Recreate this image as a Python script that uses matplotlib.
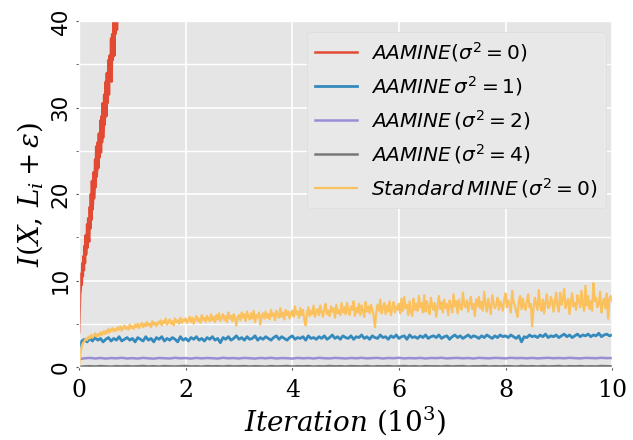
#!/usr/bin/env python
# Mutual information estimates vs. training iteration (AAMINE vs standard MINE)
import numpy
import matplotlib
matplotlib.use('Agg')
import matplotlib.pyplot as plt
from matplotlib.font_manager import FontProperties


######################################################################
# Data
######################################################################

# AAMINE (sigma^2 = 0): x in 10^3 iterations, step 0.01 from 0.00
red_vals = [
    4.0, 6.5, 8.5, 9.0, 10.8, 9.5, 12.0, 10.5, 12.8, 11.2,
    14.0, 12.0, 15.2, 13.0, 14.0, 16.5, 13.8, 17.2, 15.0, 14.5,
    18.5, 16.0, 20.0, 17.0, 21.5, 18.2, 19.0, 22.5, 19.5, 21.0,
    24.0, 20.8, 25.5, 22.0, 23.0, 26.0, 23.0, 27.0, 24.2, 25.0,
    28.5, 24.8, 29.0, 26.0, 30.5, 26.5, 28.0, 31.5, 28.0, 30.0,
    33.0, 29.0, 34.0, 30.5, 32.0, 35.5, 31.5, 36.0, 33.5, 34.5,
    38.0, 33.0, 38.5, 35.5, 36.5, 40.5, 36.0, 41.0, 38.5, 40.0,
    42.0, 39.0, 42.5,
]

# Standard MINE (sigma^2 = 0): step 0.025 from 0.00 to 10.00
orange_vals = [
    0.2, 1.6, 2.4, 2.8, 3.0, 3.3, 3.1, 3.5, 3.3, 3.7, 3.4, 3.6, 3.9, 3.5, 3.8, 3.6, 4.0, 3.7, 4.1, 3.8,
    4.2, 3.9, 4.4, 4.0, 4.3, 4.5, 4.1, 4.4, 4.2, 4.6, 4.3, 4.7, 4.2, 4.5, 4.8, 4.4, 4.6, 4.3, 4.9, 4.5,
    4.7, 4.4, 4.9, 4.6, 5.0, 4.5, 4.8, 5.1, 4.6, 5.0, 4.7, 5.2, 4.8, 5.0, 4.6, 5.3, 4.9, 5.1, 4.7, 5.2,
    5.0, 5.4, 4.8, 5.3, 5.1, 5.6, 4.9, 5.2, 5.5, 5.0, 5.3, 4.8, 5.6, 5.2, 5.4, 5.0, 5.7, 5.1, 5.5, 5.3,
    5.6, 5.1, 5.4, 5.8, 5.2, 5.7, 5.0, 5.5, 5.9, 5.3, 5.6, 5.1, 6.0, 5.4, 5.7, 5.2, 5.9, 5.5, 5.3, 6.1,
    5.4, 5.8, 5.2, 6.0, 5.5, 6.2, 5.3, 5.7, 6.1, 5.4, 5.9, 5.2, 6.3, 5.6, 5.9, 5.3, 6.1, 5.6, 4.8, 5.8,
    6.0, 5.4, 6.3, 5.7, 6.1, 5.3, 6.4, 5.8, 5.5, 6.2, 5.6, 6.5, 5.2, 6.0, 5.7, 6.3, 4.9, 5.9, 6.2, 5.6,
    6.4, 5.7, 6.1, 5.5, 6.6, 5.9, 6.2, 5.4, 6.5, 6.0, 5.7, 6.8, 5.8, 6.3, 5.5, 6.6, 6.0, 6.4, 5.6, 6.2,
    6.5, 5.8, 7.0, 6.1, 6.4, 5.7, 6.8, 6.0, 6.6, 5.5, 4.8, 6.2, 6.9, 5.9, 6.5, 6.1, 7.1, 5.8, 6.4, 6.7,
    6.0, 7.1, 6.3, 5.8, 6.7, 7.3, 6.1, 6.5, 5.9, 7.0, 6.4, 6.8, 5.7, 7.2, 6.2, 6.6, 6.0, 7.4, 6.3, 6.9,
    6.1, 7.4, 6.5, 6.0, 7.0, 6.6, 7.6, 5.9, 6.8, 6.3, 7.3, 6.0, 7.1, 6.5, 5.8, 7.5, 6.4, 7.0, 6.2, 7.2,
    6.6, 6.0, 4.6, 6.3, 7.2, 6.5, 7.8, 6.2, 6.9, 7.4, 6.1, 7.1, 6.4, 7.6, 6.0, 6.8, 7.5, 6.3, 7.0, 6.6,
    7.3, 6.2, 7.9, 6.5, 8.1, 6.8, 7.2, 6.0, 7.6, 6.4, 5.9, 7.9, 6.6, 7.3, 6.5, 8.2, 6.9, 7.4, 6.3, 8.3,
    6.4, 7.6, 6.9, 6.1, 8.0, 7.1, 6.6, 7.4, 5.8, 7.0, 8.2, 6.7, 7.5, 6.3, 7.8, 6.8, 7.3, 6.0, 7.7, 7.1,
    6.3, 8.4, 7.0, 7.6, 6.2, 7.8, 6.9, 6.6, 8.6, 7.2, 6.9, 7.7, 6.4, 7.4, 8.1, 6.7, 7.3, 5.9, 7.8, 7.0,
    8.1, 6.8, 7.5, 6.5, 8.7, 7.2, 6.4, 7.9, 7.0, 6.1, 8.3, 7.4, 6.8, 7.2, 8.0, 6.6, 7.6, 7.1, 6.5, 7.8,
    8.5, 6.9, 7.7, 7.2, 6.3, 8.8, 7.5, 7.1, 6.4, 5.8, 7.6, 8.2, 6.7, 7.9, 7.0, 6.6, 7.6, 8.4, 6.9, 7.3,
    4.7, 6.8, 8.0, 7.3, 6.6, 8.9, 7.1, 6.5, 7.8, 6.2, 7.4, 8.4, 6.8, 7.0, 8.1, 7.7, 6.4, 7.5, 8.6, 7.0,
    6.4, 8.6, 7.2, 7.8, 9.0, 6.8, 7.4, 7.9, 6.1, 7.5, 8.5, 7.0, 7.4, 6.6, 8.3, 7.7, 6.9, 8.8, 7.3, 6.5,
    9.4, 7.1, 8.2, 6.7, 7.6, 6.5, 9.7, 7.6, 8.0, 6.9, 7.3, 8.7, 6.3, 7.5, 7.9, 6.8, 8.5, 5.6, 7.9, 8.2,
    7.6,
]

# AAMINE (sigma^2 = 1): step 0.05 from 0.00 to 10.00
blue_vals = [
    2.2, 3.0, 3.2, 2.9, 3.3, 3.0, 3.4, 3.1, 3.3, 2.9,
    3.2, 3.4, 3.0, 3.3, 3.1, 3.5, 3.0, 3.2, 3.4, 3.1,
    3.3, 2.9, 3.4, 3.2, 3.0, 3.5, 3.1, 3.3, 2.9, 3.4,
    3.2, 3.5, 3.0, 3.3, 3.1, 3.4, 3.2, 2.9, 3.5, 3.1,
    3.3, 3.0, 3.4, 3.2, 3.5, 3.1, 3.3, 3.0, 3.4, 3.2,
    3.5, 3.1, 3.3, 2.8, 3.4, 3.2, 3.5, 3.1, 3.3, 3.6,
    3.2, 3.4, 3.1, 3.5, 3.2, 3.3, 3.6, 3.1, 3.4, 3.2,
    3.5, 3.3, 3.1, 3.4, 3.6, 3.2, 3.5, 3.3, 3.1, 3.4,
    3.6, 3.2, 3.4, 3.3, 3.5, 3.1, 3.6, 3.3, 3.4, 3.2,
    3.5, 3.3, 3.6, 3.2, 3.4, 3.7, 3.3, 3.5, 3.2, 3.6,
    3.4, 3.3, 3.6, 3.2, 3.5, 3.4, 3.7, 3.3, 3.5, 3.2,
    3.6, 3.4, 3.3, 3.7, 3.4, 3.5, 3.2, 3.6, 3.4, 3.7,
    3.3, 3.5, 3.6, 3.2, 3.7, 3.4, 3.5, 3.3, 3.6, 3.4,
    3.7, 3.3, 3.5, 3.6, 3.4, 3.7, 3.3, 3.5, 3.6, 3.2,
    3.5, 3.7, 3.4, 3.6, 3.3, 3.5, 3.7, 3.4, 3.6, 3.5,
    3.3, 3.6, 3.4, 3.7, 3.5, 3.3, 3.6, 3.4, 3.7, 3.5,
    3.6, 3.4, 3.7, 3.5, 3.3, 3.6, 2.9, 3.5, 3.4, 3.7,
    3.5, 3.6, 3.4, 3.7, 3.5, 3.8, 3.4, 3.6, 3.5, 3.7,
    3.4, 3.6, 3.8, 3.5, 3.7, 3.4, 3.6, 3.8, 3.5, 3.7,
    3.6, 3.8, 3.5, 3.7, 3.6, 3.9, 3.5, 3.7, 3.8, 3.6,
    3.7,
]

# AAMINE (sigma^2 = 2): step 0.1 from 0.0 to 10.0
purple_vals = [
    0.90, 1.00, 1.05, 0.98, 1.04, 0.97, 1.03, 1.00, 1.06, 0.98,
    1.02, 0.97, 1.05, 1.00, 0.96, 1.04, 1.01, 0.98, 1.06, 1.00,
    1.03, 0.97, 1.05, 0.99, 1.04, 1.01, 0.97, 1.06, 1.00, 1.03,
    0.98, 1.05, 1.01, 0.97, 1.04, 1.00, 1.06, 0.98, 1.03, 1.01,
    0.97, 1.05, 1.00, 1.04, 0.98, 1.06, 1.01, 0.99, 1.05, 1.02,
    0.98, 1.04, 1.00, 1.06, 0.99, 1.03, 1.05, 0.98, 1.04, 1.01,
    1.06, 0.99, 1.03, 1.00, 1.05, 0.98, 1.04, 1.02, 1.06, 0.99,
    1.03, 1.05, 1.00, 1.04, 0.98, 1.06, 1.02, 1.00, 1.05, 1.03,
    0.99, 1.06, 1.02, 1.04, 1.00, 1.05, 0.99, 1.03, 1.06, 1.01,
    1.04, 1.00, 1.06, 1.02, 0.99, 1.05, 1.03, 1.01, 1.06, 1.02,
    1.04,
]

# AAMINE (sigma^2 = 4): step 0.1 from 0.0 to 10.0
gray_vals = [
    0.02, 0.06, 0.09, 0.05, 0.10, 0.07, 0.04, 0.09, 0.06, 0.10,
    0.05, 0.08, 0.11, 0.06, 0.09, 0.04, 0.10, 0.07, 0.05, 0.09,
    0.11, 0.06, 0.08, 0.04, 0.10, 0.07, 0.09, 0.05, 0.11, 0.06,
    0.08, 0.10, 0.05, 0.09, 0.07, 0.04, 0.10, 0.06, 0.08, 0.11,
    0.05, 0.09, 0.07, 0.10, 0.04, 0.08, 0.06, 0.11, 0.07, 0.09,
    0.05, 0.10, 0.08, 0.06, 0.11, 0.04, 0.09, 0.07, 0.10, 0.05,
    0.08, 0.11, 0.06, 0.09, 0.04, 0.10, 0.07, 0.08, 0.05, 0.11,
    0.06, 0.09, 0.10, 0.04, 0.08, 0.07, 0.11, 0.05, 0.09, 0.06,
    0.10, 0.08, 0.04, 0.11, 0.07, 0.09, 0.05, 0.10, 0.06, 0.08,
    0.11, 0.04, 0.09, 0.07, 0.10, 0.05, 0.08, 0.06, 0.11, 0.09,
    0.07,
]

labels = [
    r'$AAMINE(\sigma^2=0)$',
    r'$AAMINE\,\sigma^2=1)$',
    r'$AAMINE\,(\sigma^2=2)$',
    r'$AAMINE\,(\sigma^2=4)$',
    r'$Standard\,MINE\,(\sigma^2=0)$',
]


######################################################################
# Graphing
######################################################################

def plot_mi():
    plt.style.use('ggplot')
    fig, ax = plt.subplots(figsize=(6.33, 4.4), dpi=100)
    fig.patch.set_facecolor('white')
    fig.subplots_adjust(left=0.125, right=0.967, bottom=0.166, top=0.952)

    x_red = numpy.arange(len(red_vals)) * 0.01
    x_orange = numpy.arange(len(orange_vals)) * 0.025
    x_blue = numpy.arange(len(blue_vals)) * 0.05
    x_coarse = numpy.arange(len(purple_vals)) * 0.1

    # draw order: flat ones first, red last on top
    ax.plot(x_coarse, gray_vals, color='#777777', lw=1.8, label=labels[3])
    ax.plot(x_coarse, purple_vals, color='#988ED5', lw=1.8, label=labels[2])
    ax.plot(x_blue, blue_vals, color='#348ABD', lw=2.0, label=labels[1])
    ax.plot(x_orange, orange_vals, color='#FBC15E', lw=1.6, label=labels[4])
    ax.plot(x_red, red_vals, color='#E24A33', lw=1.8, label=labels[0])

    ax.set_xlim(0, 10)
    ax.set_ylim(0, 40)
    ax.set_xticks([0, 2, 4, 6, 8, 10])
    ax.set_yticks([0, 10, 20, 30, 40])
    ax.set_yticks([5, 15, 25, 35], minor=True)
    ax.grid(True, which='major', color='white', lw=1.2)
    ax.grid(True, which='minor', color='white', lw=1.0)
    ax.tick_params(axis='x', labelsize=17, colors='#555555',
                   labelcolor='black', length=2, pad=7)
    ax.tick_params(axis='y', labelsize=15.5, colors='#555555',
                   labelcolor='black', length=2, pad=4)
    ax.tick_params(axis='y', which='minor', length=2, colors='#555555')
    for t in ax.get_xticklabels():
        t.set_family('DejaVu Serif')
    for t in ax.get_yticklabels():
        t.set_rotation(90)
        t.set_va('center')

    ax.set_xlabel(r'$Iteration\ (10^3)$', fontsize=20, color='black',
                  math_fontfamily='dejavuserif', labelpad=1)
    ax.set_ylabel(r'$I(X,\,L_i+\varepsilon)$', fontsize=20, color='black',
                  math_fontfamily='dejavuserif', labelpad=4)

    # legend in the reference's order
    handles, labs = ax.get_legend_handles_labels()
    order = [labs.index(l) for l in labels]
    fontP = FontProperties(size=14.5, math_fontfamily='dejavusans')
    ax.legend([handles[i] for i in order], [labs[i] for i in order],
              loc='upper right', bbox_to_anchor=(0.988, 0.968), prop=fontP,
              handlelength=2.1, handletextpad=0.7, labelspacing=0.5,
              borderpad=0.4, borderaxespad=0.0,
              facecolor='#E8E8E8', edgecolor='#DDDDDD', framealpha=1.0)
    return fig


def main():
    fig = plot_mi()
    fig.savefig('out.png', dpi=100)

if __name__ == '__main__':
    main()
